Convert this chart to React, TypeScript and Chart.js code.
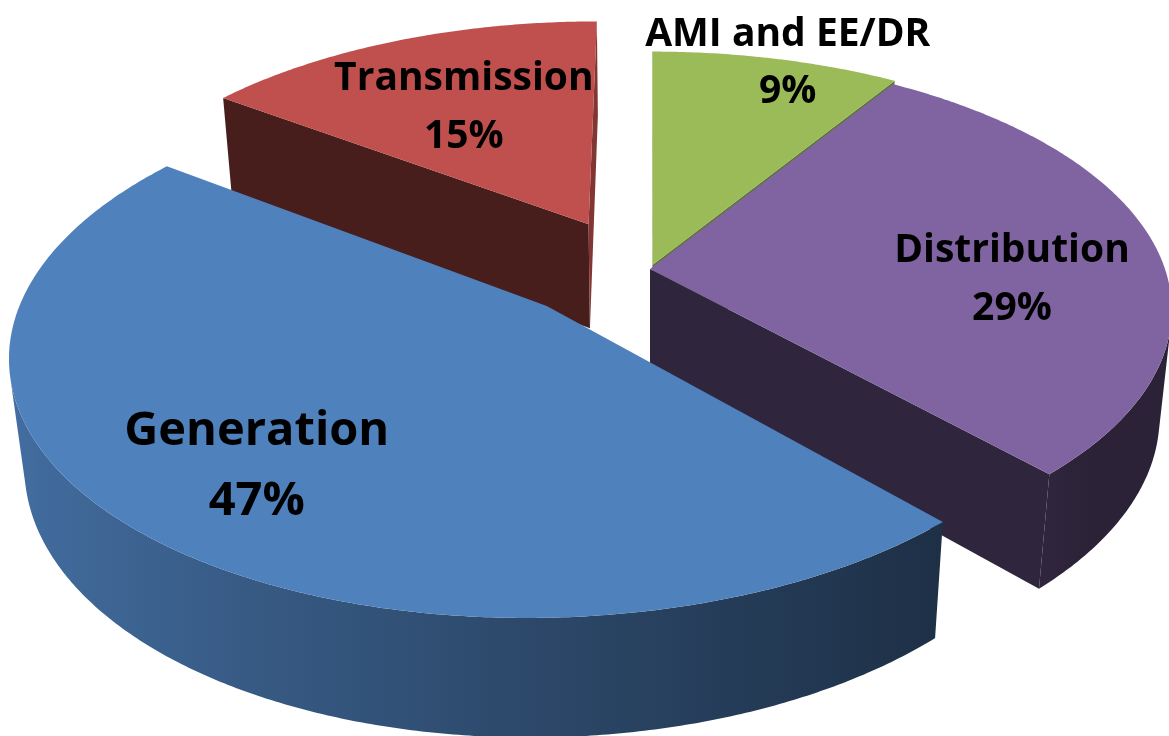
import React, { useEffect, useRef } from "react";
import { Chart, registerables } from "chart.js";

Chart.register(...registerables);

// Share of spending by segment (%), clockwise from 12 o'clock
const segments = ["AMI and EE/DR", "Distribution", "Generation", "Transmission"];
const shares = [9, 29, 47, 15];

// Face colours of the slices
const sliceColors = ["#9BBB59", "#8064A2", "#4F81BD", "#C0504D"];
// How far each slice is pulled out of the pie (px, Chart.js arc offset)
const sliceOffsets = [6, 0, 80, 73];

// Camera used to turn the flat pie into a tilted, extruded disc
const view = {
  tilt: 30, // degrees above the table
  distance: 5.39, // camera distance, in pie radii
  zoomX: 8.463, // lens scale, in pie radii
  zoomY: 8.17,
  shiftX: 65.5,
  shiftY: -99,
  depth: 0.252, // thickness of the disc, in pie radii
  explodeTurn: [0, 0, 12, -6.5], // degrees the pull-out direction is turned
  wallShade: 0.56,
  wallSlopeLeft: 0.31,
  wallSlopeRight: 0.28,
  cutShade: 0.37,
  cutShadeRight: 0.3,
};

// Label placement along each slice
const labelRadius = [1.0, 0.7, 0.73, 0.62];
const labelTurn = [1.5, 8, 0, 0];
const labelSize = [39, 39, 47, 39];
const labelFont = '"Open Sans", "DejaVu Sans", sans-serif';

function hexToRgb(hex: string): [number, number, number] {
  const n = parseInt(hex.slice(1), 16);
  return [(n >> 16) & 255, (n >> 8) & 255, n & 255];
}

function shade(hex: string, f: number): string {
  const [r, g, b] = hexToRgb(hex);
  return `rgb(${(r * f).toFixed(2)},${(g * f).toFixed(2)},${(b * f).toFixed(2)})`;
}

const clamp = (x: number, lo: number, hi: number) => Math.max(lo, Math.min(hi, x));

// brightness of the curved wall for an outward normal with x-component nu
const wallFactor = (nu: number) =>
  clamp(
    view.wallShade - (nu < 0 ? view.wallSlopeLeft : view.wallSlopeRight) * nu,
    0.34,
    0.9
  );

const pie3d = {
  id: "pie3d",
  beforeDatasetsDraw(chart: any) {
    const arcs = chart.getDatasetMeta(0).data as any[];
    if (!arcs.length) return false;
    const ctx: CanvasRenderingContext2D = chart.ctx;
    const R = arcs[0].outerRadius;
    const t = (view.tilt * Math.PI) / 180;
    const sn = Math.sin(t);
    const cs = Math.cos(t);
    const D = view.distance;
    const cx = arcs[0].x + view.shiftX;
    const cy = arcs[0].y + view.shiftY;
    const fx = view.zoomX * R;
    const fy = view.zoomY * R;
    const h = view.depth;
    const camV = D * cs;
    const deg = Math.PI / 180;

    const proj = (u: number, v: number, z: number): [number, number] => {
      const d = D - v * cs - z * sn;
      return [cx + (fx * u) / d, cy + (fy * (v * sn - z * cs)) / d];
    };
    const path = (pts: [number, number][]) => {
      ctx.beginPath();
      pts.forEach(([x, y], k) => (k ? ctx.lineTo(x, y) : ctx.moveTo(x, y)));
      ctx.closePath();
    };

    const slices = arcs.map((arc: any, i: number) => {
      const a0 = arc.startAngle;
      const a1 = arc.endAngle;
      const mid = (a0 + a1) / 2;
      const dir = mid + (view.explodeTurn[i] || 0) * deg;
      const e = (arc.options.offset || 0) / R;
      return {
        i,
        a0,
        a1,
        mid,
        ou: e * Math.cos(dir),
        ov: e * Math.sin(dir),
        color: arc.options.backgroundColor as string,
      };
    });

    // paint from the back of the pie to the front
    const order = [...slices].sort(
      (p, q) => p.ov + 0.5 * Math.sin(p.mid) - (q.ov + 0.5 * Math.sin(q.mid))
    );

    ctx.save();
    for (const s of order) {
      const { a0, a1, ou, ov, color } = s;

      // cut faces along the two radii
      const radial = (a: number, nu: number, nv: number) => {
        if (-ou * nu + (camV - ov) * nv <= 0) return;
        const ru = ou + Math.cos(a);
        const rv = ov + Math.sin(a);
        const f = view.cutShade + view.cutShadeRight * Math.max(0, nu);
        path([proj(ou, ov, 0), proj(ru, rv, 0), proj(ru, rv, -h), proj(ou, ov, -h)]);
        ctx.fillStyle = shade(color, f);
        ctx.fill();
      };
      radial(a0, Math.sin(a0), -Math.cos(a0));
      radial(a1, -Math.sin(a1), Math.cos(a1));

      // curved outer wall: visible runs filled with a left-to-right shading ramp
      const n = Math.max(4, Math.ceil((a1 - a0) / (0.5 * deg)));
      const step = (a1 - a0) / n;
      const seen: boolean[] = [];
      for (let k = 0; k < n; k++) {
        const bm = a0 + step * (k + 0.5);
        const nu = Math.cos(bm);
        const nv = Math.sin(bm);
        seen.push(-(ou + nu) * nu + (camV - (ov + nv)) * nv > 0);
      }
      let k = 0;
      while (k < n) {
        if (!seen[k]) {
          k++;
          continue;
        }
        let k1 = k;
        while (k1 + 1 < n && seen[k1 + 1]) k1++;
        const upper: [number, number][] = [];
        const lower: [number, number][] = [];
        const stops: [number, number][] = [];
        for (let j = k; j <= k1 + 1; j++) {
          const b = a0 + step * j;
          const u = ou + Math.cos(b);
          const v = ov + Math.sin(b);
          const pt = proj(u, v, 0);
          upper.push(pt);
          lower.push(proj(u, v, -h));
          if ((j - k) % 6 === 0 || j === k1 + 1) stops.push([pt[0], wallFactor(Math.cos(b))]);
        }
        path([...upper, ...lower.reverse()]);
        const xs = stops.map((p) => p[0]);
        const xmin = Math.min(...xs);
        const xmax = Math.max(...xs);
        const g = ctx.createLinearGradient(xmin, 0, xmax, 0);
        for (const [x, f] of stops) {
          g.addColorStop(xmax > xmin ? (x - xmin) / (xmax - xmin) : 0, shade(color, f));
        }
        ctx.fillStyle = g;
        ctx.fill();
        k = k1 + 1;
      }

      // top face
      const top: [number, number][] = [proj(ou, ov, 0)];
      for (let j = 0; j <= n; j++) {
        const b = a0 + step * j;
        top.push(proj(ou + Math.cos(b), ov + Math.sin(b), 0));
      }
      path(top);
      ctx.fillStyle = color;
      ctx.fill();
    }

    // category and percentage labels
    const values = chart.data.datasets[0].data as number[];
    const total = values.reduce((a, b) => a + b, 0);
    ctx.fillStyle = "#000";
    ctx.textAlign = "center";
    ctx.textBaseline = "alphabetic";
    for (const s of slices) {
      const lm = s.mid + labelTurn[s.i] * deg;
      const r = labelRadius[s.i];
      const [lx, ly] = proj(s.ou + r * Math.cos(lm), s.ov + r * Math.sin(lm), 0);
      const size = labelSize[s.i];
      const gap = size * 1.48;
      const cap = size * 0.36;
      ctx.font = `bold ${size}px ${labelFont}`;
      ctx.fillText(String(chart.data.labels[s.i]), lx, ly - gap / 2 + cap);
      ctx.fillText(`${Math.round((values[s.i] / total) * 100)}%`, lx, ly + gap / 2 + cap);
    }
    ctx.restore();
    return false;
  },
};

export default function App() {
  const canvasRef = useRef<HTMLCanvasElement | null>(null);

  useEffect(() => {
    if (!canvasRef.current) return;
    const chart = new Chart(canvasRef.current, {
      type: "pie",
      data: {
        labels: segments,
        datasets: [
          {
            data: shares,
            backgroundColor: sliceColors,
            offset: sliceOffsets,
            borderWidth: 0,
            hoverOffset: 0,
          },
        ],
      },
      options: {
        responsive: true,
        maintainAspectRatio: false,
        animation: false,
        events: [],
        layout: { padding: 0 },
        plugins: {
          legend: { display: false },
          tooltip: { enabled: false },
        },
      },
      plugins: [pie3d],
    } as any);
    return () => chart.destroy();
  }, []);

  return (
    <div
      style={{
        position: "fixed",
        left: 0,
        top: 0,
        width: 1169,
        height: 736,
        background: "#ffffff",
      }}
    >
      <canvas ref={canvasRef} />
    </div>
  );
}
